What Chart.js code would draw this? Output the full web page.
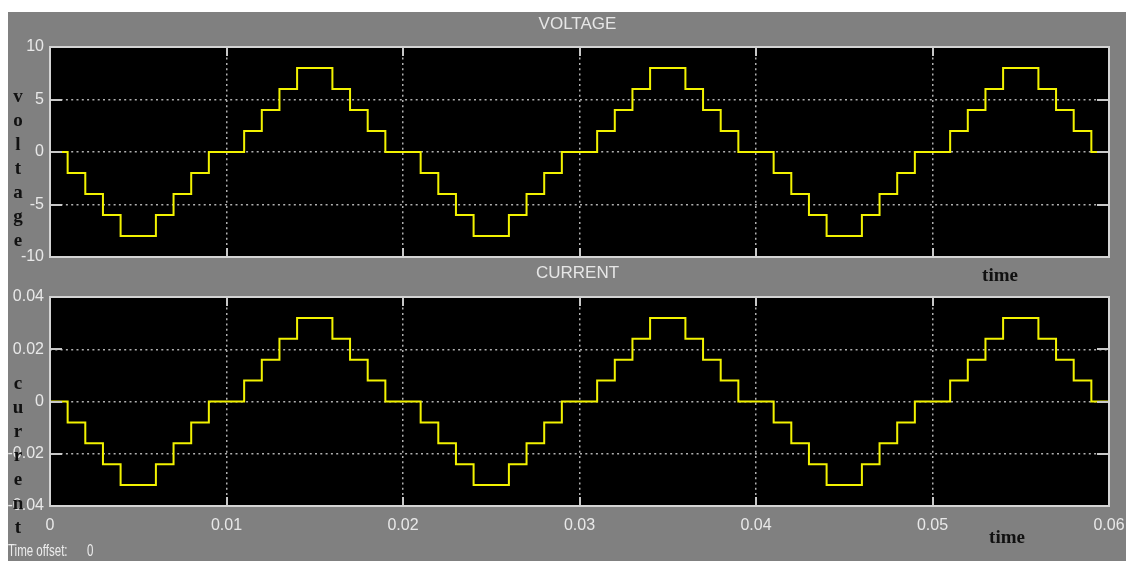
<!DOCTYPE html>
<html><head><meta charset="utf-8">
<script src="https://cdn.jsdelivr.net/npm/chart.js@4/dist/chart.umd.min.js"></script>
<style>
html,body{margin:0;padding:0;background:#fff;width:1126px;height:561px;overflow:hidden;position:relative;}
#bg{position:absolute;left:8px;top:12px;width:1118px;height:549px;background:#808080;}
canvas{position:absolute;left:0;}
#c1{top:0;}
#c2{top:262px;}
.off{position:absolute;top:542px;font:16px "Liberation Sans",Arial,sans-serif;color:#ececec;white-space:pre;transform:scaleX(0.72);transform-origin:0 0;}
</style></head><body>
<div id="bg"></div>
<canvas id="c1" width="1126" height="292"></canvas>
<canvas id="c2" width="1126" height="299"></canvas>
<div class="off" style="left:8px">Time offset:</div>
<div class="off" style="left:87px">0</div>
<script>
const time = [
  0, 0.001, 0.002, 0.003, 0.004, 0.005, 0.006, 0.007, 0.008, 0.009,
  0.010, 0.011, 0.012, 0.013, 0.014, 0.015, 0.016, 0.017, 0.018, 0.019,
  0.020, 0.021, 0.022, 0.023, 0.024, 0.025, 0.026, 0.027, 0.028, 0.029,
  0.030, 0.031, 0.032, 0.033, 0.034, 0.035, 0.036, 0.037, 0.038, 0.039,
  0.040, 0.041, 0.042, 0.043, 0.044, 0.045, 0.046, 0.047, 0.048, 0.049,
  0.050, 0.051, 0.052, 0.053, 0.054, 0.055, 0.056, 0.057, 0.058, 0.059,
  0.060
];
const voltage = [
  0, -2, -4, -6, -8, -8, -6, -4, -2, 0,
  0, 2, 4, 6, 8, 8, 6, 4, 2, 0,
  0, -2, -4, -6, -8, -8, -6, -4, -2, 0,
  0, 2, 4, 6, 8, 8, 6, 4, 2, 0,
  0, -2, -4, -6, -8, -8, -6, -4, -2, 0,
  0, 2, 4, 6, 8, 8, 6, 4, 2, 0,
  0
];
const current = [
  0, -0.008, -0.016, -0.024, -0.032, -0.032, -0.024, -0.016, -0.008, 0,
  0, 0.008, 0.016, 0.024, 0.032, 0.032, 0.024, 0.016, 0.008, 0,
  0, -0.008, -0.016, -0.024, -0.032, -0.032, -0.024, -0.016, -0.008, 0,
  0, 0.008, 0.016, 0.024, 0.032, 0.032, 0.024, 0.016, 0.008, 0,
  0, -0.008, -0.016, -0.024, -0.032, -0.032, -0.024, -0.016, -0.008, 0,
  0, 0.008, 0.016, 0.024, 0.032, 0.032, 0.024, 0.016, 0.008, 0,
  0
];
const timeTicks = [0, 0.01, 0.02, 0.03, 0.04, 0.05, 0.06];
const timeTickLabels = ['0', '0.01', '0.02', '0.03', '0.04', '0.05', '0.06'];
const voltageTicks = [-10, -5, 0, 5, 10];
const voltageTickLabels = ['-10', '-5', '0', '5', '10'];
const currentTicks = [-0.04, -0.02, 0, 0.02, 0.04];
const currentTickLabels = ['-0.04', '-0.02', '0', '0.02', '0.04'];

const TICK_FONT = {family: '"Liberation Sans", Arial, sans-serif', size: 16};
const TICK_COLOR = '#e8e8e8';

function decor(title, titleY, letters, letterY0, timePos) {
  return {
    id: 'decor',
    beforeDraw(chart) {
      const {ctx, chartArea: a} = chart;
      ctx.save();
      ctx.fillStyle = '#000';
      ctx.fillRect(a.left, a.top, a.right - a.left, a.bottom - a.top);
      ctx.restore();
    },
    afterDatasetsDraw(chart) {
      const {ctx, chartArea: a, scales} = chart;
      const xs = scales.x, ys = scales.y;
      ctx.save();
      ctx.strokeStyle = '#c8c8c8';
      ctx.lineWidth = 2;
      ctx.beginPath();
      const L = 9;
      xs.ticks.forEach(t => {
        const px = Math.round(xs.getPixelForValue(t.value));
        ctx.moveTo(px, a.top); ctx.lineTo(px, a.top + L);
        ctx.moveTo(px, a.bottom); ctx.lineTo(px, a.bottom - L);
      });
      ys.ticks.forEach(t => {
        const py = Math.round(ys.getPixelForValue(t.value));
        ctx.moveTo(a.left, py); ctx.lineTo(a.left + L + 3, py);
        ctx.moveTo(a.right, py); ctx.lineTo(a.right - L - 3, py);
      });
      ctx.stroke();
      ctx.strokeStyle = '#d4d4d4';
      ctx.lineWidth = 2;
      ctx.strokeRect(a.left, a.top, a.right - a.left, a.bottom - a.top);
      ctx.fillStyle = '#e6e6e6';
      ctx.font = '17px "Liberation Sans", Arial, sans-serif';
      ctx.textAlign = 'center';
      ctx.textBaseline = 'middle';
      ctx.fillText(title, (a.left + a.right) / 2 - 2, titleY);
      ctx.fillStyle = '#111';
      ctx.font = 'bold 19px "Liberation Serif", "Times New Roman", serif';
      letters.split('').forEach((ch, i) => ctx.fillText(ch, 18, letterY0 + i * 24));
      ctx.fillText('time', timePos[0], timePos[1]);
      ctx.restore();
    }
  };
}

function makeChart(id, values, yTicks, yLabels, yMin, yMax, showX, pad, xHeight, plugin) {
  return new Chart(document.getElementById(id), {
    type: 'line',
    data: {
      datasets: [{
        data: time.map((t, i) => ({x: t, y: values[i]})),
        borderColor: '#f2f200',
        borderWidth: 2,
        pointRadius: 0,
        stepped: 'before',
        fill: false,
        tension: 0
      }]
    },
    options: {
      responsive: false,
      animation: false,
      devicePixelRatio: 1,
      layout: {padding: pad},
      plugins: {legend: {display: false}, tooltip: {enabled: false}, title: {display: false}},
      scales: {
        x: {
          type: 'linear', min: 0, max: 0.06,
          afterBuildTicks: s => { s.ticks = timeTicks.map(v => ({value: v})); },
          afterFit: s => { s.height = xHeight; s.paddingLeft = 0; s.paddingRight = 0; },
          ticks: {display: showX, callback: (v, i) => timeTickLabels[i], font: TICK_FONT, color: TICK_COLOR, padding: 10, maxRotation: 0, autoSkip: false},
          grid: {color: '#b0b0b0', lineWidth: 1.5, drawTicks: false},
          border: {display: false, dash: [2, 3.3]}
        },
        y: {
          type: 'linear', min: yMin, max: yMax,
          afterBuildTicks: s => { s.ticks = yTicks.map(v => ({value: v})); },
          afterFit: s => { s.width = 50; s.paddingTop = 0; s.paddingBottom = 0; },
          ticks: {callback: (v, i) => yLabels[i], font: TICK_FONT, color: TICK_COLOR, padding: 6, autoSkip: false},
          grid: {color: '#b0b0b0', lineWidth: 1.5, drawTicks: false},
          border: {display: false, dash: [2, 3.3]}
        }
      }
    },
    plugins: [plugin]
  });
}

makeChart('c1', voltage, voltageTicks, voltageTickLabels, -10, 10, false,
  {top: 47, right: 17, bottom: 35, left: 0}, 0,
  decor('VOLTAGE', 24, 'voltage', 97, [1000, 276]));
makeChart('c2', current, currentTicks, currentTickLabels, -0.04, 0.04, true,
  {top: 35, right: 17, bottom: 0, left: 0}, 55,
  decor('CURRENT', 11, 'current', 122, [1007, 276]));
</script>
</body></html>
